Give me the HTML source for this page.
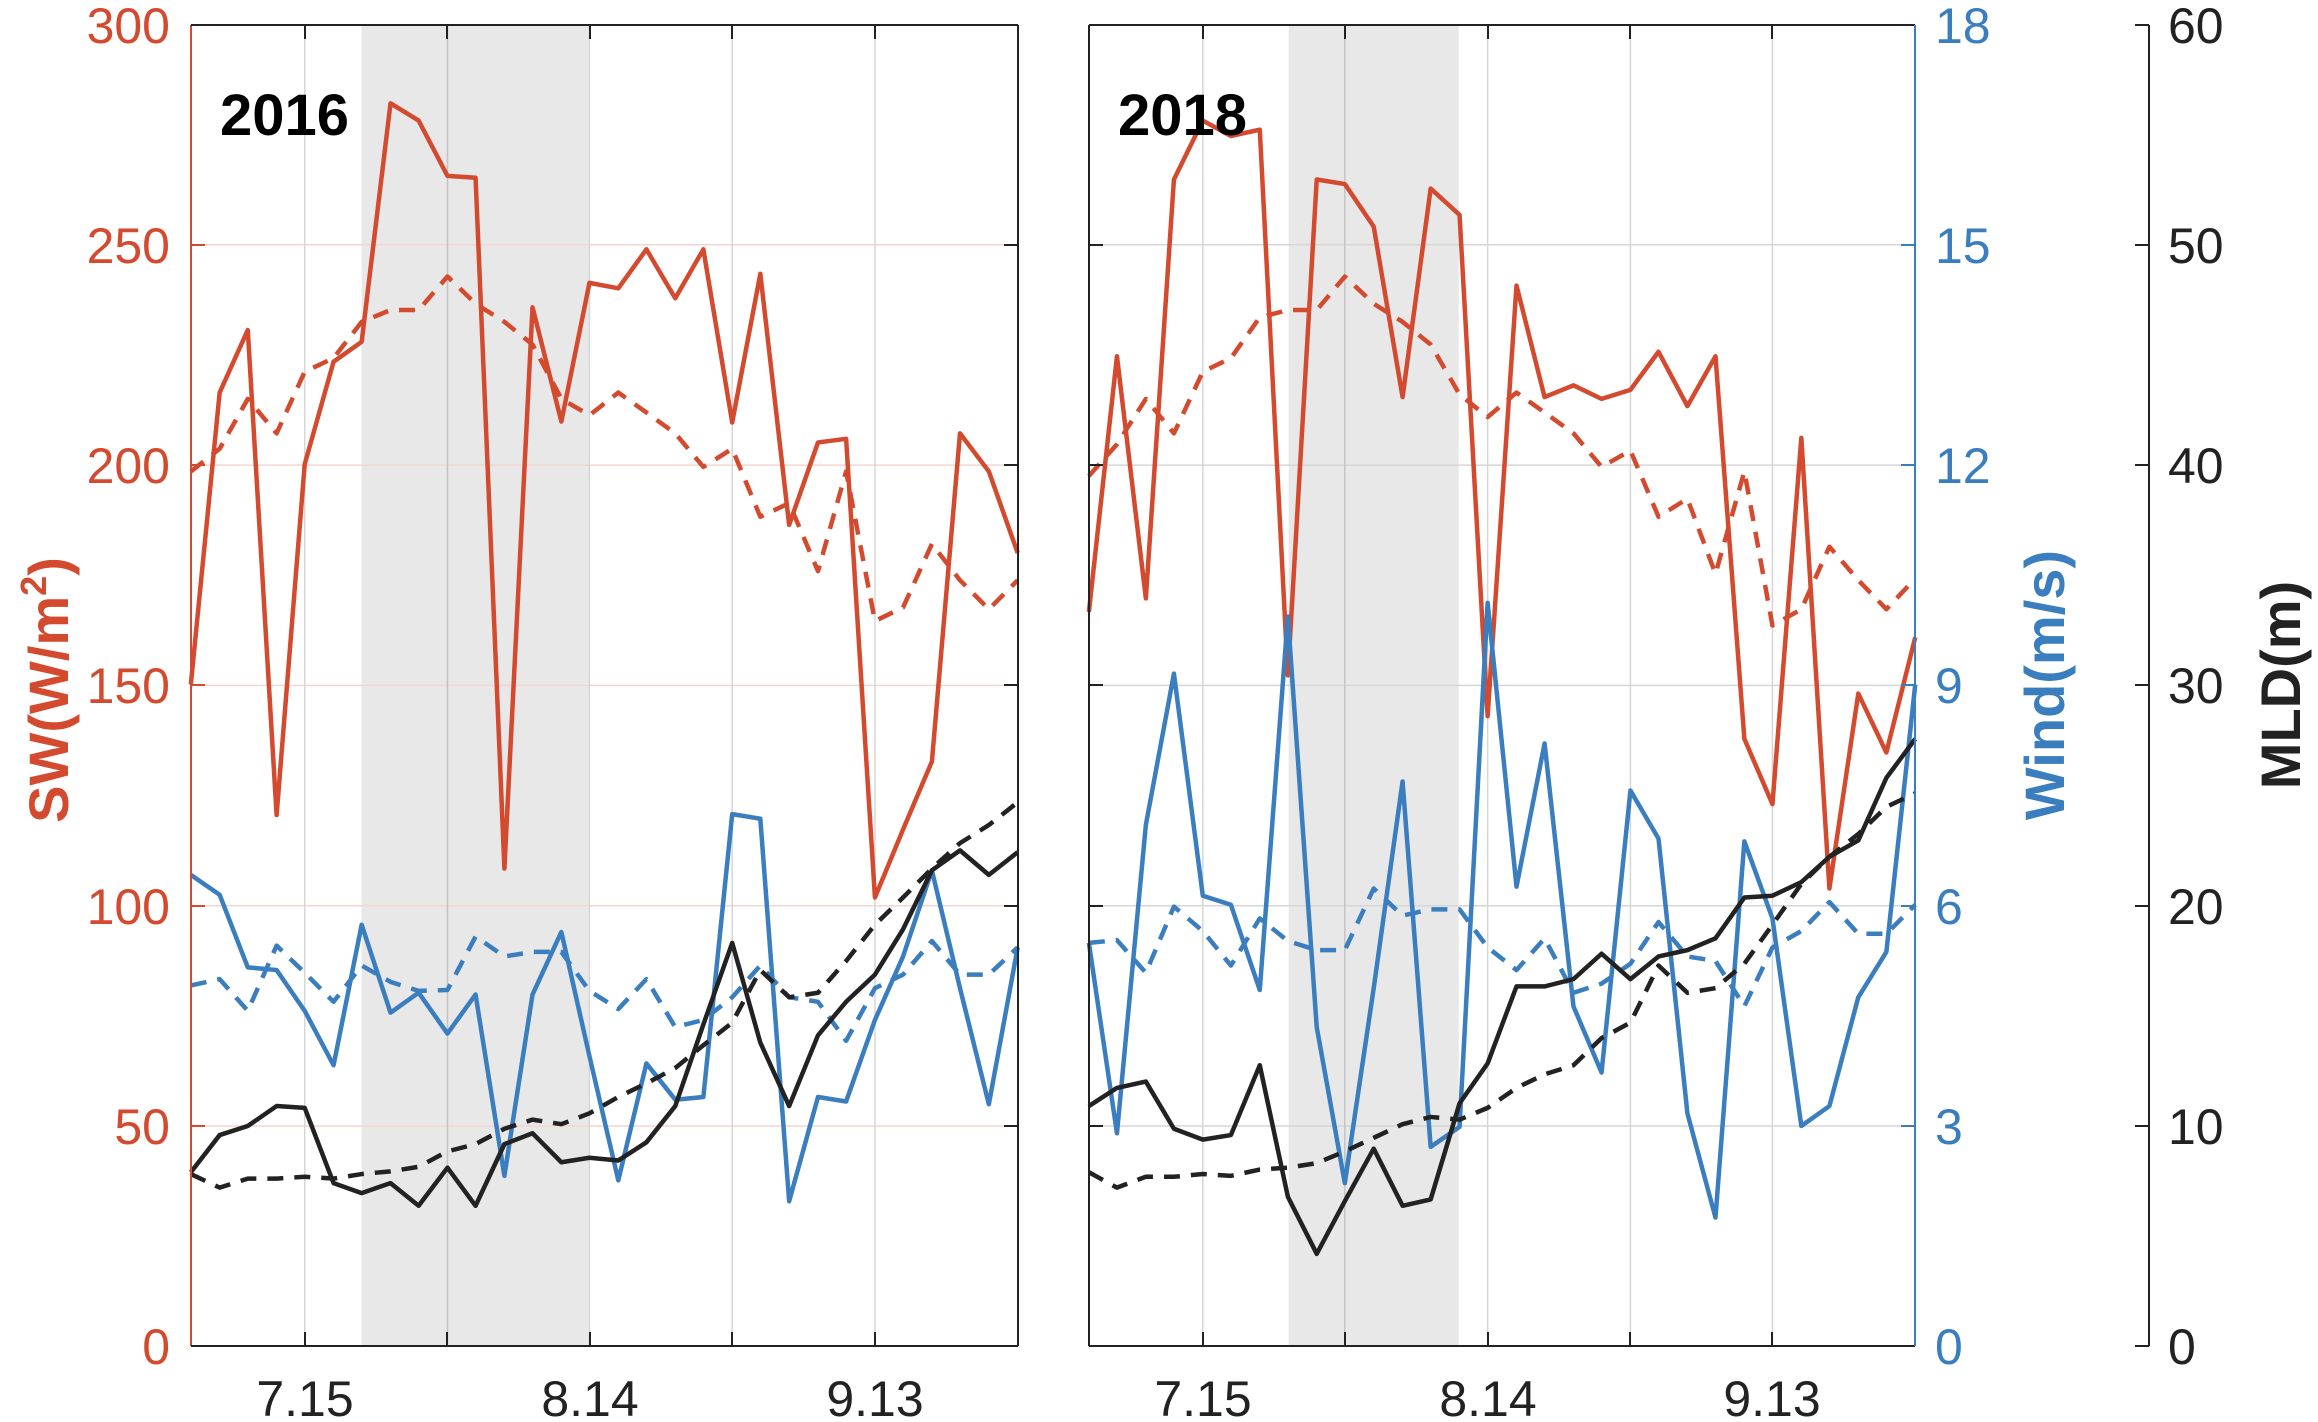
<!DOCTYPE html>
<html><head><meta charset="utf-8"><style>
html,body{margin:0;padding:0;background:#fff;}
svg{display:block;font-family:"Liberation Sans",Arial,sans-serif;}
</style></head><body>
<svg width="2318" height="1422" viewBox="0 0 2318 1422" xmlns="http://www.w3.org/2000/svg">
<!-- Panel 1 -->
<g transform="scale(0.7396,0.9066)">
  <rect x="489" y="27" width="308" height="1457" fill="#e8e8e8"/>
  <g stroke="#f3d6d0" stroke-width="1.5" vector-effect="non-scaling-stroke">
    <line x1="258" x2="1376" y1="270" y2="270" vector-effect="non-scaling-stroke"/>
    <line x1="258" x2="1376" y1="513" y2="513" vector-effect="non-scaling-stroke"/>
    <line x1="258" x2="1376" y1="756" y2="756" vector-effect="non-scaling-stroke"/>
    <line x1="258" x2="1376" y1="999" y2="999" vector-effect="non-scaling-stroke"/>
    <line x1="258" x2="1376" y1="1242" y2="1242" vector-effect="non-scaling-stroke"/>
  </g>
  <g stroke="#d6d6d6" stroke-width="1.5">
    <line x1="412" x2="412" y1="27" y2="1484" vector-effect="non-scaling-stroke"/>
    <line x1="605" x2="605" y1="27" y2="1484" stroke="#c4c4c4" vector-effect="non-scaling-stroke"/>
    <line x1="797" x2="797" y1="27" y2="1484" vector-effect="non-scaling-stroke"/>
    <line x1="990" x2="990" y1="27" y2="1484" vector-effect="non-scaling-stroke"/>
    <line x1="1183" x2="1183" y1="27" y2="1484" vector-effect="non-scaling-stroke"/>
  </g>
  <g fill="none" stroke-width="4.5" stroke-linejoin="round">
    <polyline vector-effect="non-scaling-stroke" stroke="#d44a2f" stroke-dasharray="16,11" points="258,520 297,495 335,440 374,478 412,410 451,395 489,355 528,342 566,342 605,305 643,335 682,355 720,380 759,440 797,458 836,433 874,455 913,478 951,515 990,495 1028,570 1067,555 1106,630 1144,520 1183,685 1221,670 1260,600 1298,640 1337,672 1376,640"/>
    <polyline vector-effect="non-scaling-stroke" stroke="#d44a2f" points="258,755 297,433 335,364 374,899 412,512 451,399 489,377 528,114 566,133 605,194 643,196 682,958 720,339 759,465 797,312 836,318 874,275 913,329 951,275 990,466 1028,302 1067,579 1106,488 1144,484 1183,990 1221,915 1260,840 1298,478 1337,520 1376,610"/>
    <polyline vector-effect="non-scaling-stroke" stroke="#3a7ebf" stroke-dasharray="16,11" points="258,1087 297,1080 335,1115 374,1043 412,1073 451,1105 489,1065 528,1083 566,1093 605,1092 643,1033 682,1055 720,1050 759,1050 797,1093 836,1113 874,1080 913,1133 951,1125 990,1100 1028,1065 1067,1100 1106,1105 1144,1148 1183,1090 1221,1075 1260,1038 1298,1075 1337,1075 1376,1045"/>
    <polyline vector-effect="non-scaling-stroke" stroke="#3a7ebf" points="258,965 297,987 335,1067 374,1070 412,1115 451,1175 489,1020 528,1117 566,1095 605,1140 643,1097 682,1297 720,1097 759,1028 797,1165 836,1302 874,1173 913,1213 951,1210 990,898 1028,903 1067,1325 1106,1210 1144,1215 1183,1125 1221,1055 1260,960 1298,1090 1337,1218 1376,1045"/>
    <polyline vector-effect="non-scaling-stroke" stroke="#222" stroke-dasharray="16,11" points="258,1295 297,1310 335,1300 374,1300 412,1298 451,1300 489,1295 528,1292 566,1287 605,1270 643,1262 682,1245 720,1235 759,1240 797,1228 836,1210 874,1195 913,1178 951,1153 990,1128 1028,1070 1067,1100 1106,1095 1144,1060 1183,1020 1221,990 1260,958 1298,930 1337,910 1376,885"/>
    <polyline vector-effect="non-scaling-stroke" stroke="#222" points="258,1293 297,1252 335,1242 374,1220 412,1222 451,1305 489,1316 528,1305 566,1330 605,1288 643,1330 682,1262 720,1250 759,1282 797,1277 836,1280 874,1260 913,1220 951,1130 990,1040 1028,1150 1067,1220 1106,1142 1144,1105 1183,1075 1221,1025 1260,960 1298,938 1337,965 1376,940"/>
  </g>
</g>
<!-- Panel 1 axes -->
<g stroke-width="2">
  <line x1="191" y1="25" x2="191" y2="1346" stroke="#d44a2f"/>
  <line x1="191" y1="1346" x2="1018" y2="1346" stroke="#222"/>
  <line x1="191" y1="25" x2="1018" y2="25" stroke="#222"/>
  <line x1="1018" y1="25" x2="1018" y2="1346" stroke="#222"/>
  <g stroke="#d44a2f">
    <line x1="191" x2="205" y1="245" y2="245"/><line x1="191" x2="205" y1="465" y2="465"/>
    <line x1="191" x2="205" y1="685" y2="685"/><line x1="191" x2="205" y1="906" y2="906"/>
    <line x1="191" x2="205" y1="1126" y2="1126"/>
  </g>
  <g stroke="#222">
    <line x1="1004" x2="1018" y1="245" y2="245"/><line x1="1004" x2="1018" y1="465" y2="465"/>
    <line x1="1004" x2="1018" y1="685" y2="685"/><line x1="1004" x2="1018" y1="906" y2="906"/>
    <line x1="1004" x2="1018" y1="1126" y2="1126"/>
    <line x1="305" x2="305" y1="1332" y2="1346"/><line x1="447" x2="447" y1="1332" y2="1346"/>
    <line x1="590" x2="590" y1="1332" y2="1346"/><line x1="732" x2="732" y1="1332" y2="1346"/>
    <line x1="875" x2="875" y1="1332" y2="1346"/>
    <line x1="305" x2="305" y1="25" y2="39"/><line x1="447" x2="447" y1="25" y2="39"/>
    <line x1="590" x2="590" y1="25" y2="39"/><line x1="732" x2="732" y1="25" y2="39"/>
    <line x1="875" x2="875" y1="25" y2="39"/>
  </g>
</g>
<g fill="#d44a2f" font-size="50" text-anchor="end">
  <text x="170" y="43">300</text><text x="170" y="263">250</text><text x="170" y="483">200</text>
  <text x="170" y="703">150</text><text x="170" y="924">100</text><text x="170" y="1144">50</text>
  <text x="170" y="1364">0</text>
</g>
<text transform="translate(68,690) rotate(-90)" text-anchor="middle" fill="#d44a2f" font-size="56" font-weight="bold">SW(W/m<tspan font-size="36" dy="-22">2</tspan><tspan dy="22">)</tspan></text>
<text x="220" y="135" font-size="58" font-weight="bold" fill="#000">2016</text>
<g fill="#222" font-size="50" text-anchor="middle">
  <text x="305" y="1416">7.15</text><text x="590" y="1416">8.14</text><text x="875" y="1416">9.13</text>
</g>

<!-- Panel 2 -->
<g transform="translate(1060,0) scale(0.8023,0.9066)">
  <rect x="285" y="27" width="212" height="1457" fill="#e8e8e8"/>
  <g stroke="#d6d6d6" stroke-width="1.5">
    <line x1="36" x2="1066" y1="270" y2="270" vector-effect="non-scaling-stroke"/>
    <line x1="36" x2="1066" y1="513" y2="513" vector-effect="non-scaling-stroke"/>
    <line x1="36" x2="1066" y1="756" y2="756" vector-effect="non-scaling-stroke"/>
    <line x1="36" x2="1066" y1="999" y2="999" vector-effect="non-scaling-stroke"/>
    <line x1="36" x2="1066" y1="1242" y2="1242" vector-effect="non-scaling-stroke"/>
    <line x1="178" x2="178" y1="27" y2="1484" vector-effect="non-scaling-stroke"/>
    <line x1="355" x2="355" y1="27" y2="1484" stroke="#c4c4c4" vector-effect="non-scaling-stroke"/>
    <line x1="533" x2="533" y1="27" y2="1484" vector-effect="non-scaling-stroke"/>
    <line x1="711" x2="711" y1="27" y2="1484" vector-effect="non-scaling-stroke"/>
    <line x1="888" x2="888" y1="27" y2="1484" vector-effect="non-scaling-stroke"/>
  </g>
  <g fill="none" stroke-width="4.5" stroke-linejoin="round">
    <polyline vector-effect="non-scaling-stroke" stroke="#d44a2f" stroke-dasharray="16,11" points="36,525 71,490 107,440 142,478 178,410 213,395 249,350 284,342 320,342 355,305 391,335 427,355 462,380 498,435 533,460 569,433 604,455 640,478 675,515 711,497 746,570 782,550 817,633 853,520 888,690 924,672 959,603 995,640 1030,672 1066,638"/>
    <polyline vector-effect="non-scaling-stroke" stroke="#d44a2f" points="36,675 71,393 107,660 142,198 178,133 213,150 249,143 284,745 320,198 355,203 391,250 427,438 462,208 498,237 533,790 569,315 604,438 640,425 675,440 711,430 746,388 782,448 817,393 853,815 888,887 924,483 959,980 995,765 1030,830 1066,703"/>
    <polyline vector-effect="non-scaling-stroke" stroke="#3a7ebf" stroke-dasharray="16,11" points="36,1040 71,1037 107,1073 142,1000 178,1027 213,1065 249,1013 284,1038 320,1048 355,1048 391,980 427,1010 462,1003 498,1003 533,1045 569,1070 604,1035 640,1095 675,1085 711,1063 746,1017 782,1055 817,1060 853,1110 888,1045 924,1027 959,995 995,1030 1030,1030 1066,998"/>
    <polyline vector-effect="non-scaling-stroke" stroke="#3a7ebf" points="36,1040 71,1250 107,910 142,743 178,988 213,998 249,1092 284,680 320,1133 355,1305 391,1090 427,862 462,1265 498,1243 533,665 569,978 604,820 640,1110 675,1183 711,872 746,925 782,1228 817,1343 853,928 888,1013 924,1242 959,1220 995,1100 1030,1050 1066,755"/>
    <polyline vector-effect="non-scaling-stroke" stroke="#222" stroke-dasharray="16,11" points="36,1293 71,1310 107,1298 142,1298 178,1295 213,1297 249,1290 284,1288 320,1283 355,1270 391,1255 427,1240 462,1232 498,1235 533,1222 569,1200 604,1185 640,1175 675,1145 711,1128 746,1065 782,1095 817,1090 853,1063 888,1020 924,975 959,945 995,920 1030,890 1066,875"/>
    <polyline vector-effect="non-scaling-stroke" stroke="#222" points="36,1220 71,1200 107,1193 142,1245 178,1257 213,1252 249,1175 284,1320 320,1383 355,1325 391,1267 427,1330 462,1323 498,1217 533,1173 569,1088 604,1088 640,1080 675,1052 711,1080 746,1055 782,1048 817,1035 853,990 888,988 924,973 959,945 995,927 1030,858 1066,815"/>
  </g>
</g>
<g stroke-width="2">
  <line x1="1089" y1="25" x2="1089" y2="1346" stroke="#222"/>
  <line x1="1089" y1="1346" x2="1915" y2="1346" stroke="#222"/>
  <line x1="1089" y1="25" x2="1915" y2="25" stroke="#222"/>
  <line x1="1915" y1="25" x2="1915" y2="1346" stroke="#3a7ebf"/>
  <g stroke="#222">
    <line x1="1089" x2="1103" y1="245" y2="245"/><line x1="1089" x2="1103" y1="465" y2="465"/>
    <line x1="1089" x2="1103" y1="685" y2="685"/><line x1="1089" x2="1103" y1="906" y2="906"/>
    <line x1="1089" x2="1103" y1="1126" y2="1126"/>
    <line x1="1203" x2="1203" y1="1332" y2="1346"/><line x1="1345" x2="1345" y1="1332" y2="1346"/>
    <line x1="1488" x2="1488" y1="1332" y2="1346"/><line x1="1630" x2="1630" y1="1332" y2="1346"/>
    <line x1="1772" x2="1772" y1="1332" y2="1346"/>
    <line x1="1203" x2="1203" y1="25" y2="39"/><line x1="1345" x2="1345" y1="25" y2="39"/>
    <line x1="1488" x2="1488" y1="25" y2="39"/><line x1="1630" x2="1630" y1="25" y2="39"/>
    <line x1="1772" x2="1772" y1="25" y2="39"/>
  </g>
  <g stroke="#3a7ebf">
    <line x1="1901" x2="1915" y1="245" y2="245"/><line x1="1901" x2="1915" y1="465" y2="465"/>
    <line x1="1901" x2="1915" y1="685" y2="685"/><line x1="1901" x2="1915" y1="906" y2="906"/>
    <line x1="1901" x2="1915" y1="1126" y2="1126"/>
  </g>
  <g stroke="#222">
    <line x1="2149" y1="25" x2="2149" y2="1346"/>
    <line x1="2135" x2="2149" y1="25" y2="25"/><line x1="2135" x2="2149" y1="245" y2="245"/>
    <line x1="2135" x2="2149" y1="465" y2="465"/><line x1="2135" x2="2149" y1="685" y2="685"/>
    <line x1="2135" x2="2149" y1="906" y2="906"/><line x1="2135" x2="2149" y1="1126" y2="1126"/>
    <line x1="2135" x2="2149" y1="1346" y2="1346"/>
  </g>
</g>
<text x="1118" y="135" font-size="58" font-weight="bold" fill="#000">2018</text>
<g fill="#222" font-size="50" text-anchor="middle">
  <text x="1203" y="1416">7.15</text><text x="1488" y="1416">8.14</text><text x="1772" y="1416">9.13</text>
</g>
<g fill="#3a7ebf" font-size="50">
  <text x="1935" y="43">18</text><text x="1935" y="263">15</text><text x="1935" y="483">12</text>
  <text x="1935" y="703">9</text><text x="1935" y="924">6</text><text x="1935" y="1144">3</text>
  <text x="1935" y="1364">0</text>
</g>
<text transform="translate(2064,685) rotate(-90)" text-anchor="middle" fill="#3a7ebf" font-size="56" font-weight="bold">Wind(m/s)</text>
<g fill="#222" font-size="50">
  <text x="2168" y="43">60</text><text x="2168" y="263">50</text><text x="2168" y="483">40</text>
  <text x="2168" y="703">30</text><text x="2168" y="924">20</text><text x="2168" y="1144">10</text>
  <text x="2168" y="1364">0</text>
</g>
<text transform="translate(2300,685) rotate(-90)" text-anchor="middle" fill="#222" font-size="56" font-weight="bold">MLD(m)</text>
</svg>
</body></html>
